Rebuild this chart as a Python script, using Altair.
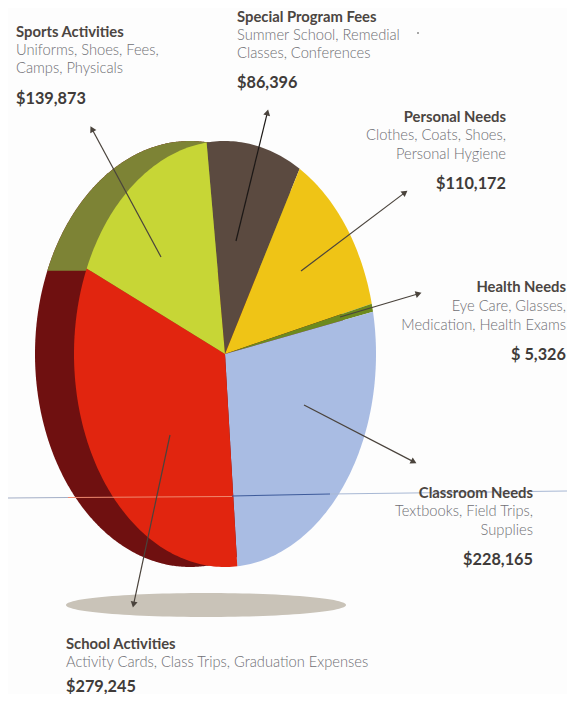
import math
import altair as alt
import pandas as pd

categories = ["Special Program Fees", "Personal Needs", "Health Needs",
              "Classroom Needs", "School Activities", "Sports Activities"]
values = [86396, 110172, 5326, 228165, 279245, 139873]
slice_colors = ["#5b4a40", "#efc416", "#6d8a1e", "#a9bce3", "#e1250f", "#c7d636"]

# text blocks: heading, detail lines, amount
details = [
    ["Summer School, Remedial", "Classes, Conferences"],
    ["Clothes, Coats, Shoes,", "Personal Hygiene"],
    ["Eye Care, Glasses,", "Medication, Health Exams"],
    ["Textbooks, Field Trips,", "Supplies"],
    ["Activity Cards, Class Trips, Graduation Expenses"],
    ["Uniforms, Shoes, Fees,", "Camps, Physicals"],
]
amounts = ["$86,396", "$110,172", "$ 5,326", "$228,165", "$279,245", "$139,873"]

# layout, in reference pixels
text_x = [237, 506, 566, 533, 66, 16]
text_align = ["left", "right", "right", "right", "left", "left"]
head_y = [17, 117, 287, 493, 644, 32]
line_y = [[35, 53], [135, 154], [306, 325], [511, 530], [662], [50, 68]]
amount_y = [82, 183, 354, 559, 686, 98]

arrow_tail = [(236, 241), (301, 271), (340, 317), (304, 405), (170, 435), (161, 257)]
arrow_tip = [(268, 110), (407, 191), (421, 293), (416, 463), (133, 607), (90.7, 126.7)]
arrow_color = ["#1c1816", "#4a433c", "#4a433c", "#4a433c", "#4a433c", "#4a433c"]

CX, CY, RX, RY = 225, 354, 151, 213
BX, BRX = 190, 155
SPLIT_Y = 272
START = -7
PAGE = 8
W, H = 559, 686


def feature(points, color):
    ring = [[float(x), float(y)] for x, y in points]
    ring.append(ring[0])
    return {"type": "Feature", "properties": {"color": color},
            "geometry": {"type": "Polygon", "coordinates": [ring]}}


def ellipse_point(cx, cy, rx, ry, deg):
    t = math.radians(deg)
    return cx + rx * math.sin(t), cy - ry * math.cos(t)


features = []
# ground shadow
features.append(feature([ellipse_point(206, 605, 140, 12, d) for d in range(0, 360, 3)], "#c9c3b8"))
# darker rim behind the pie
back = [ellipse_point(BX, CY, BRX, RY, d / 2) for d in range(0, 720)]
features.append(feature(back, "#6f1010"))
features.append(feature([p for p in back if p[1] <= SPLIT_Y], "#7d8335"))
# slices
total = sum(values)
a = START
for v, c in zip(values, slice_colors):
    span = 360 * v / total
    n = max(3, int(span))
    pts = [(CX, CY)] + [ellipse_point(CX, CY, RX, RY, a + span * i / n) for i in range(n + 1)]
    features.append(feature(pts, c))
    a += span

xs = alt.Scale(domain=[PAGE, PAGE + W], range=[0, W])
ys = alt.Scale(domain=[PAGE, PAGE + H], range=[0, H])
X = alt.X("x:Q", scale=xs, axis=None)
Y = alt.Y("y:Q", scale=ys, axis=None)

shapes = alt.Chart(alt.Data(values=features)).mark_geoshape(strokeWidth=0).encode(
    fill=alt.Fill("properties.color:N", scale=None)
).project(type="identity", scale=1, translate=[-PAGE, -PAGE])

fold = pd.DataFrame([
    dict(x=8, y=498, x2=68, y2=497.5, c="#a3aec6"),
    dict(x=68, y=497.5, x2=232, y2=496.5, c="#f08a70"),
    dict(x=232, y=496, x2=330, y2=494, c="#3d5a9a"),
    dict(x=330, y=494, x2=567, y2=491, c="#a8b8d4"),
])
fold_layer = alt.Chart(fold).mark_rule(strokeWidth=1.1).encode(
    x=X, y=Y, x2="x2:Q", y2="y2:Q", color=alt.Color("c:N", scale=None)
)

arrow_rows = []
for t, h, c in zip(arrow_tail, arrow_tip, arrow_color):
    dx, dy = h[0] - t[0], h[1] - t[1]
    length = math.hypot(dx, dy)
    arrow_rows.append(dict(
        x=t[0], y=t[1],
        x2=h[0] - 3.5 * dx / length, y2=h[1] - 3.5 * dy / length,
        ang=(math.degrees(math.atan2(dx, -dy)) + 360) % 360, c=c,
    ))
arrows = pd.DataFrame(arrow_rows)
shaft = alt.Chart(arrows).mark_rule(strokeWidth=1.2).encode(
    x=X, y=Y, x2="x2:Q", y2="y2:Q", color=alt.Color("c:N", scale=None)
)
heads = alt.Chart(arrows).mark_point(shape="triangle", filled=True, opacity=1, size=48).encode(
    x=alt.X("x2:Q", scale=xs, axis=None), y=alt.Y("y2:Q", scale=ys, axis=None),
    angle=alt.Angle("ang:Q", scale=None), color=alt.value("#4a433c")
)

rows = []
for i, cat in enumerate(categories):
    base = dict(x=text_x[i], side=text_align[i])
    rows.append(dict(base, y=head_y[i], t=cat, k="head"))
    for ln, yy in zip(details[i], line_y[i]):
        rows.append(dict(base, y=yy, t=ln, k="line"))
    rows.append(dict(base, y=amount_y[i], t=amounts[i], k="amount"))
rows_df = pd.DataFrame(rows)


def text_layer(kind, side, size, weight, color):
    d = rows_df[(rows_df["k"] == kind) & (rows_df["side"] == side)]
    return alt.Chart(d).mark_text(
        align=side, baseline="middle", dy=1, font="Lato", fontSize=size, fontWeight=weight, color=color
    ).encode(x=X, y=Y, text="t:N")


texts = []
for side in ["left", "right"]:
    texts += [
        text_layer("head", side, 14.8, "bold", "#4b4541"),
        text_layer("line", side, 14.7, 300, "#6f6f74"),
        text_layer("amount", side, 16.3, "bold", "#403b39"),
    ]

dot = alt.Chart(pd.DataFrame({"x": [418], "y": [33]})).mark_point(
    filled=True, size=4, color="#8a8a8a", opacity=1
).encode(x=X, y=Y)

chart = alt.layer(shapes, fold_layer, shaft, heads, dot, *texts).properties(
    width=W, height=H, padding=0, background="#fdfdfd"
).configure_view(stroke=None)
chart.autosize = alt.AutoSizeParams(type="none")

chart.save("out.html", embed_options={"renderer": "svg", "actions": False})
